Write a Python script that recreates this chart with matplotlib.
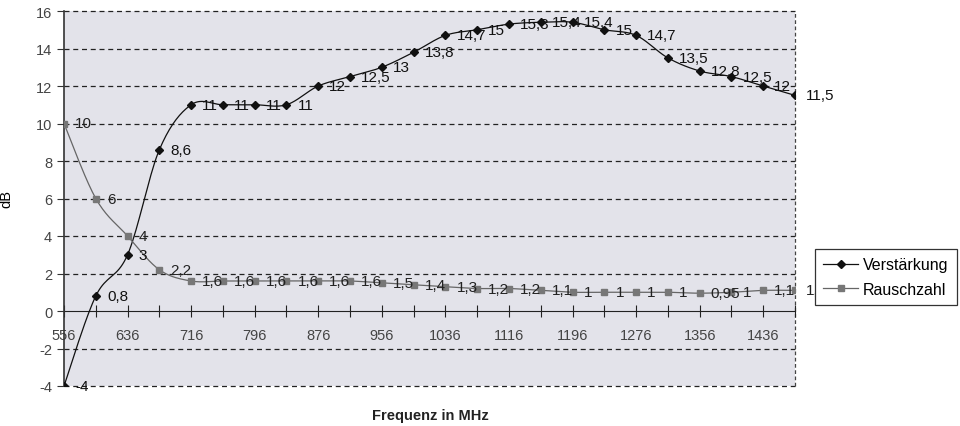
import numpy as np
import matplotlib
matplotlib.use('Agg')
import matplotlib.pyplot as plt

# Messwerte, Frequenz in 40-MHz-Schritten
frequenz = [556, 596, 636, 676, 716, 756, 796, 836, 876, 916, 956, 996,
            1036, 1076, 1116, 1156, 1196, 1236, 1276, 1316, 1356, 1396, 1436, 1476]
verstaerkung = [-4, 0.8, 3, 8.6, 11, 11, 11, 11, 12, 12.5, 13, 13.8,
                14.7, 15, 15.3, 15.4, 15.4, 15, 14.7, 13.5, 12.8, 12.5, 12, 11.5]
rauschzahl = [10, 6, 4, 2.2, 1.6, 1.6, 1.6, 1.6, 1.6, 1.6, 1.5, 1.4,
              1.3, 1.2, 1.2, 1.1, 1, 1, 1, 1, 0.95, 1, 1.1, 1.1]
y_ticks = list(range(-4, 17, 2))

plt.rcParams['font.family'] = ['Liberation Sans', 'DejaVu Sans']
plt.rcParams['axes.unicode_minus'] = False


def smooth(x, y, n=20):
    # Excel-artige Glaettung (Catmull-Rom als Bezier)
    x = np.asarray(x, float)
    y = np.asarray(y, float)
    px, py = [], []
    for i in range(len(x) - 1):
        i0 = max(i - 1, 0)
        i3 = min(i + 2, len(x) - 1)
        c1x = x[i] + (x[i + 1] - x[i0]) / 6
        c1y = y[i] + (y[i + 1] - y[i0]) / 6
        c2x = x[i + 1] - (x[i3] - x[i]) / 6
        c2y = y[i + 1] - (y[i3] - y[i]) / 6
        t = np.linspace(0, 1, n)
        bx = (1-t)**3*x[i] + 3*(1-t)**2*t*c1x + 3*(1-t)*t**2*c2x + t**3*x[i+1]
        by = (1-t)**3*y[i] + 3*(1-t)**2*t*c1y + 3*(1-t)*t**2*c2y + t**3*y[i+1]
        px.extend(bx)
        py.extend(by)
    return px, py


def fmt(v):
    return ('%g' % v).replace('.', ',')


fig = plt.figure(figsize=(9.6, 4.27), dpi=100)
ax = fig.add_axes([64/960, 1 - 387/427, (795-64)/960, (387-12)/427])
ax.set_facecolor('#e3e3ea')

idx = np.arange(len(frequenz))

# Gitterlinien gestrichelt
for yv in y_ticks:
    if yv != 0:
        ax.axhline(yv, color='#222222', lw=0.9, ls=(0, (4, 3)), zorder=1,
                   clip_on=False)
ax.axvline(len(frequenz) - 1, color='#444444', lw=0.9, ls=(0, (3, 2)), zorder=1,
           clip_on=False)

sx, sy = smooth(idx, verstaerkung)
ax.plot(sx, sy, color='#111111', lw=0.9, zorder=3)
ax.plot(idx, verstaerkung, ls='none', marker='D', ms=4, color='#111111', zorder=4)

sx, sy = smooth(idx, rauschzahl)
ax.plot(sx, sy, color='#666666', lw=0.9, zorder=3)
ax.plot(idx, rauschzahl, ls='none', marker='s', ms=4, color='#777777', zorder=4)

for i in idx:
    ax.annotate(fmt(verstaerkung[i]), (i, verstaerkung[i]), xytext=(8, 0),
                textcoords='offset points', va='center', ha='left',
                fontsize=11, color='#111111', annotation_clip=False, zorder=5)
    ax.annotate(fmt(rauschzahl[i]), (i, rauschzahl[i]), xytext=(8, 0),
                textcoords='offset points', va='center', ha='left',
                fontsize=11, color='#222222', annotation_clip=False, zorder=5)

ax.set_xlim(0, len(frequenz) - 1)
ax.set_ylim(-4, 16)
ax.set_yticks(y_ticks)
ax.set_xticks(idx)
ax.set_xticklabels([str(f) if k % 2 == 0 else '' for k, f in enumerate(frequenz)])

ax.spines['bottom'].set_position(('data', 0))
ax.spines['bottom'].set_color('#222222')
ax.spines['bottom'].set_zorder(2)
ax.spines['left'].set_color('#333333')
ax.spines['left'].set_linewidth(1.2)
ax.spines['top'].set_visible(False)
ax.spines['right'].set_visible(False)
ax.tick_params(axis='x', direction='inout', length=8, colors='#222222',
               labelsize=10.5, labelcolor='#444444', pad=8)
ax.tick_params(axis='y', direction='out', length=5, colors='#333333',
               labelsize=10.5, labelcolor='#444444')

ax.set_ylabel('dB', fontsize=10.5, labelpad=16)
fig.text(430/960, 1 - 416/427, 'Frequenz in MHz', ha='center', va='center',
         fontsize=10.5, fontweight='bold', color='#222222')

handles = [plt.Line2D([], [], color='#111111', lw=0.9, marker='D', ms=4),
           plt.Line2D([], [], color='#666666', lw=0.9, marker='s', ms=4,
                      markerfacecolor='#777777', markeredgecolor='#777777')]
leg = fig.legend(handles, ['Verstärkung', 'Rauschzahl'],
                 loc='center', bbox_to_anchor=(886/960, 1 - 278/427),
                 fontsize=11.5, frameon=True, fancybox=False, handlelength=2.2,
                 borderpad=0.5, labelspacing=0.6, handletextpad=0.3,
                 framealpha=1)
leg.get_frame().set_edgecolor('#333333')
leg.get_frame().set_linewidth(0.9)

fig.savefig('out.png', dpi=100)
